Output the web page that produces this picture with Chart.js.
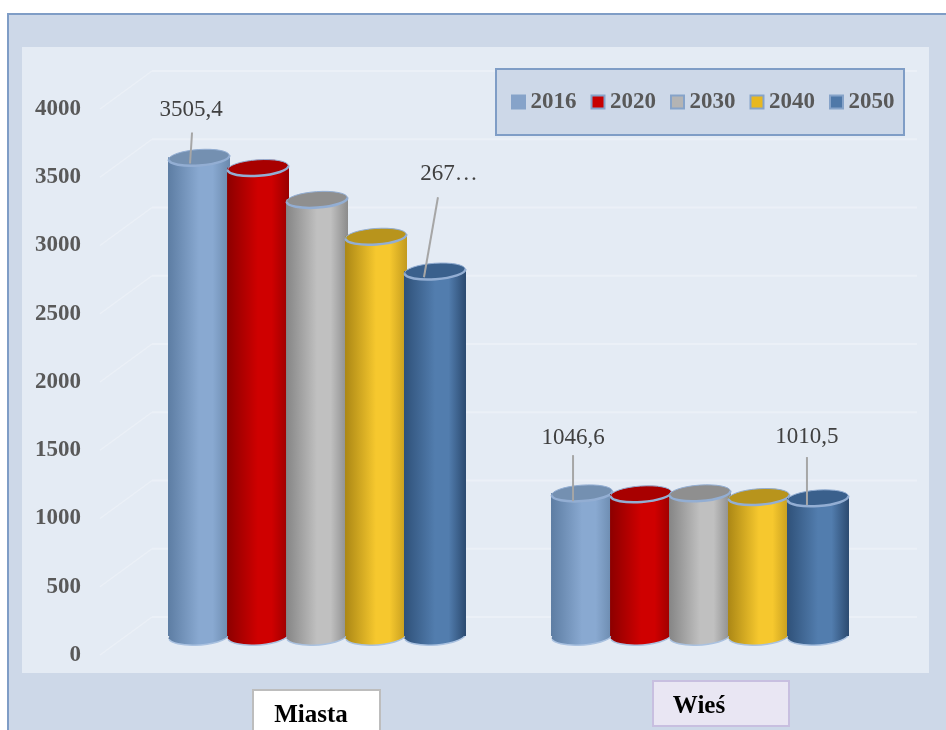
<!DOCTYPE html>
<html lang="pl">
<head>
<meta charset="utf-8">
<title>Miasta i wieś</title>
<script src="https://cdn.jsdelivr.net/npm/chart.js@4/dist/chart.umd.js"></script>
<style>
    html, body { margin: 0; padding: 0; background: #fff; overflow: hidden; }
    canvas { display: block; }
</style>
</head>
<body>
<canvas id="chart" width="946" height="730"></canvas>
<script>
// Dane
const categories = ['Miasta', 'Wieś'];
const seriesNames = ['2016', '2020', '2030', '2040', '2050'];
const values2016 = [3505.4, 1046.6];
const values2020 = [3430, 1040];
const values2030 = [3197, 1047];
const values2040 = [2927, 1020];
const values2050 = [2672, 1010.5];
const seriesValues = [values2016, values2020, values2030, values2040, values2050];
const labels2016 = ['3505,4', '1046,6'];
const labels2050 = ['267…', '1010,5'];

// Kolory serii
const baseColors = ['#86a3c9', '#c80000', '#b4b4b4', '#e8b820', '#4f78a8'];
const edgeLeft = ['#5d7da3', '#8c0000', '#858585', '#ab8715', '#2f5179'];
const edgeMid = ['#89a9d1', '#cf0000', '#c0c0c0', '#f6c82e', '#527dae'];
const edgeRight = ['#6a89ad', '#990000', '#8b8b8b', '#c29a1e', '#2b4a70'];
const capColors = ['#7490b1', '#a80000', '#8f8f8f', '#b8941c', '#3a608c'];

const SERIF = '"Liberation Serif", serif';
const BASE_Y = 636;
const TILT = -0.07;
const LEGEND_PADDING = 15;

// Odsuniecie tylnej sciany wykresu od osi
const WALL = { left: 100, back: 152, right: 917, rise: 19 };

// Etykiety danych z liniami odniesienia (przesuniecia wzgledem gornej krawedzi slupka)
const callouts = [
    { dataset: 0, index: 0, text: labels2016[0], tx: -8, ty: -48, x1: -7, y1: -25, x2: -9, y2: 6 },
    { dataset: 0, index: 1, text: labels2016[1], tx: -9, ty: -55, x1: -9, y1: -38, x2: -9, y2: 8 },
    { dataset: 4, index: 0, text: labels2050[0], tx: 14, ty: -97, x1: 3, y1: -74, x2: -11, y2: 6 },
    { dataset: 4, index: 1, text: labels2050[1], tx: -11, ty: -61, x1: -11, y1: -41, x2: -11, y2: 7 }
];

// Pola podpisow kategorii
const categoryBoxes = [
    { left: 253, top: 690, width: 127, height: 60, fill: '#ffffff', stroke: '#bdbdbd', dx: -6, textY: 716 },
    { left: 653, top: 681, width: 136, height: 45, fill: '#e9e6f3', stroke: '#c8bfe0', dx: -1, textY: 707 }
];

/**
 * Rysuje tlo, panel, siatke i ramke legendy
 */
const backgroundPlugin = {
    id: 'background',
    beforeDraw(chart) {
        const ctx = chart.ctx;
        const y = chart.scales.y;
        ctx.save();
        ctx.fillStyle = '#ffffff';
        ctx.fillRect(0, 0, 946, 730);

        // Panel zewnetrzny
        ctx.fillStyle = '#cdd8e8';
        ctx.fillRect(7, 13, 939, 717);
        ctx.strokeStyle = '#7f9dc6';
        ctx.lineWidth = 2;
        ctx.beginPath();
        ctx.moveTo(8, 730);
        ctx.lineTo(8, 14);
        ctx.lineTo(946, 14);
        ctx.stroke();

        // Obszar wykresu
        ctx.fillStyle = '#e4ebf4';
        ctx.fillRect(22, 47, 907, 626);

        // Siatka: linia na tylnej scianie i skos do osi
        y.ticks.forEach(tick => {
            const py = y.getPixelForValue(tick.value);
            ctx.strokeStyle = '#ebf0f7';
            ctx.lineWidth = 2;
            ctx.beginPath();
            ctx.moveTo(WALL.back, py - WALL.rise);
            ctx.lineTo(WALL.right, py - WALL.rise);
            ctx.stroke();
            ctx.lineWidth = 1.5;
            ctx.beginPath();
            ctx.moveTo(WALL.back, py - WALL.rise);
            ctx.lineTo(WALL.left, py + WALL.rise);
            ctx.stroke();
        });

        // Ramka legendy
        ctx.fillStyle = '#cdd8e8';
        ctx.fillRect(496, 69, 408, 66);
        ctx.strokeStyle = '#7f9dc6';
        ctx.lineWidth = 2;
        ctx.strokeRect(496, 69, 408, 66);

        // Kwadraty legendy (tekst legendy stoi blizej niz domyslnie)
        const legend = chart.legend;
        legend.legendHitBoxes.forEach((hit, i) => {
            const top = legend.top + LEGEND_PADDING + 5;
            ctx.fillStyle = baseColors[i];
            ctx.fillRect(hit.left, top, 13, 13);
            ctx.strokeStyle = '#86a3c9';
            ctx.lineWidth = 2;
            ctx.strokeRect(hit.left, top, 13, 13);
        });
        ctx.restore();
    }
};

/**
 * Zamienia prostokatne slupki w walce
 */
const cylinderPlugin = {
    id: 'cylinder',
    afterLayout(chart) {
        // Legenda w ramce wewnatrz wykresu
        const legend = chart.legend;
        const height = legend.height;
        legend.left = 512 - LEGEND_PADDING;
        legend.right = 946;
        legend.top = 90.5 - LEGEND_PADDING;
        legend.bottom = legend.top + height;
        legend.adjustHitBoxes();
    },
    afterDatasetsUpdate(chart) {
        // Cieniowanie slupka w poziomie
        chart.data.datasets.forEach((dataset, i) => {
            chart.getDatasetMeta(i).data.forEach(bar => {
                const half = bar.width / 2;
                const gradient = chart.ctx.createLinearGradient(bar.x - half, 0, bar.x + half, 0);
                gradient.addColorStop(0, edgeLeft[i]);
                gradient.addColorStop(0.5, edgeMid[i]);
                gradient.addColorStop(0.72, edgeMid[i]);
                gradient.addColorStop(1, edgeRight[i]);
                bar.options = Object.assign({}, bar.options, { backgroundColor: gradient });
                bar.$gradient = gradient;
            });
        });
    },
    afterDatasetsDraw(chart) {
        // Walce rysowane w kolejnosci serii, kazda nastepna przykrywa poprzednia
        const ctx = chart.ctx;
        chart.data.datasets.forEach((dataset, i) => {
            chart.getDatasetMeta(i).data.forEach(bar => {
                const rx = bar.width / 2;

                // Dolna podstawa z jasnym brzegiem
                ctx.save();
                ctx.fillStyle = bar.$gradient;
                ctx.strokeStyle = '#a9c1e0';
                ctx.lineWidth = 1.5;
                ctx.beginPath();
                ctx.ellipse(bar.x, bar.base, rx - 0.5, 9, TILT, 0, Math.PI * 2);
                ctx.fill();
                ctx.beginPath();
                ctx.ellipse(bar.x, bar.base, rx - 0.5, 9, TILT, 0.15, Math.PI - 0.15);
                ctx.stroke();
                ctx.restore();

                bar.draw(ctx);

                // Gorna podstawa: ciemne wnetrze i jasny przedni brzeg
                ctx.save();
                ctx.fillStyle = capColors[i];
                ctx.strokeStyle = '#93aed3';
                ctx.lineWidth = 1;
                ctx.beginPath();
                ctx.ellipse(bar.x, bar.y, rx - 0.5, 8, TILT, 0, Math.PI * 2);
                ctx.fill();
                ctx.stroke();
                ctx.lineWidth = 2.5;
                ctx.beginPath();
                ctx.ellipse(bar.x, bar.y, rx - 0.5, 8, TILT, 0, Math.PI);
                ctx.stroke();
                ctx.restore();
            });
        });
    },
    afterDraw(chart) {
        const ctx = chart.ctx;
        ctx.save();

        // Etykiety danych
        callouts.forEach(item => {
            const bar = chart.getDatasetMeta(item.dataset).data[item.index];
            ctx.strokeStyle = '#a6a6a6';
            ctx.lineWidth = 2;
            ctx.beginPath();
            ctx.moveTo(bar.x + item.x1, bar.y + item.y1);
            ctx.lineTo(bar.x + item.x2, bar.y + item.y2);
            ctx.stroke();
            ctx.fillStyle = '#404040';
            ctx.font = '23px ' + SERIF;
            ctx.textAlign = 'center';
            ctx.textBaseline = 'middle';
            ctx.fillText(item.text, bar.x + item.tx, bar.y + item.ty);
        });

        // Podpisy kategorii w polach
        categories.forEach((name, i) => {
            const box = categoryBoxes[i];
            ctx.fillStyle = box.fill;
            ctx.fillRect(box.left, box.top, box.width, box.height);
            ctx.strokeStyle = box.stroke;
            ctx.lineWidth = 2;
            ctx.strokeRect(box.left, box.top, box.width, box.height);
            ctx.fillStyle = '#000000';
            ctx.font = 'bold 25px ' + SERIF;
            ctx.textAlign = 'center';
            ctx.textBaseline = 'middle';
            ctx.fillText(name, chart.scales.x.getPixelForValue(i) + box.dx, box.textY);
        });
        ctx.restore();
    }
};

new Chart(document.getElementById('chart'), {
    type: 'bar',
    data: {
        labels: categories,
        datasets: seriesNames.map((name, i) => ({
            label: name,
            data: seriesValues[i],
            backgroundColor: baseColors[i],
            borderWidth: 0,
            barPercentage: 1.05,
            categoryPercentage: 0.77
        }))
    },
    options: {
        responsive: false,
        animation: false,
        layout: {
            padding: { top: 42, right: 54.5, bottom: 730 - BASE_Y, left: 0 }
        },
        scales: {
            x: {
                grid: { display: false, drawTicks: false },
                border: { display: false },
                ticks: { display: false }
            },
            y: {
                min: 0,
                max: 4000,
                afterFit(scale) {
                    scale.width = 125.5;
                },
                grid: { display: false, drawTicks: false },
                border: { display: false },
                ticks: {
                    stepSize: 500,
                    padding: 44.5,
                    labelOffset: 19,
                    color: '#595959',
                    font: { family: SERIF, size: 23, weight: 'bold' },
                    callback: value => String(value)
                }
            }
        },
        plugins: {
            tooltip: { enabled: false },
            legend: {
                position: 'top',
                align: 'start',
                labels: {
                    boxWidth: 7,
                    boxHeight: 13,
                    padding: LEGEND_PADDING,
                    color: '#595959',
                    font: { family: SERIF, size: 23, weight: 'bold' },
                    generateLabels(chart) {
                        return Chart.defaults.plugins.legend.labels.generateLabels(chart).map(item => {
                            item.fillStyle = 'transparent';
                            item.lineWidth = 0;
                            return item;
                        });
                    }
                }
            }
        }
    },
    plugins: [backgroundPlugin, cylinderPlugin]
});
</script>
</body>
</html>
